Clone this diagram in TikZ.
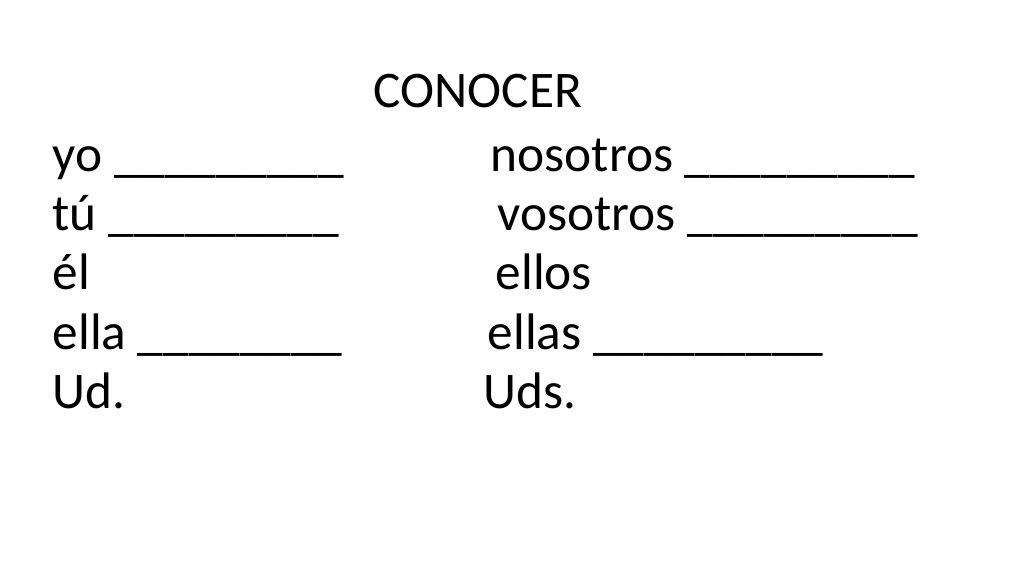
\documentclass[tikz,border=0pt]{standalone}
\usepackage{fontspec}
\setmainfont{Carlito}
\begin{document}
\begin{tikzpicture}[x=0.01cm,y=-0.01cm,
  word/.style={anchor=base west, inner sep=0pt, font=\fontsize{14.6pt}{17pt}\selectfont}]
  \useasboundingbox (0,0) rectangle (1024,576);
  % title
  \node[word] (title) at (373,108) {CONOCER};
  % left column
  \node[word] (yo)   at (52,172) {yo \_\_\_\_\_\_\_\_\_};
  \node[word] (tu)   at (52,231) {tú \_\_\_\_\_\_\_\_\_};
  \node[word] (el)   at (52,290) {él};
  \node[word] (ella) at (52,349) {ella \_\_\_\_\_\_\_\_};
  \node[word] (ud)   at (52,408) {Ud.};
  % right column
  \node[word] (nos)   at (490,172) {nosotros \_\_\_\_\_\_\_\_\_};
  \node[word] (vos)   at (497,231) {vosotros \_\_\_\_\_\_\_\_\_};
  \node[word] (ellos) at (495,290) {ellos};
  \node[word] (ellas) at (487,349) {ellas \_\_\_\_\_\_\_\_\_};
  \node[word] (uds)   at (483,408) {Uds.};
\end{tikzpicture}
\end{document}
